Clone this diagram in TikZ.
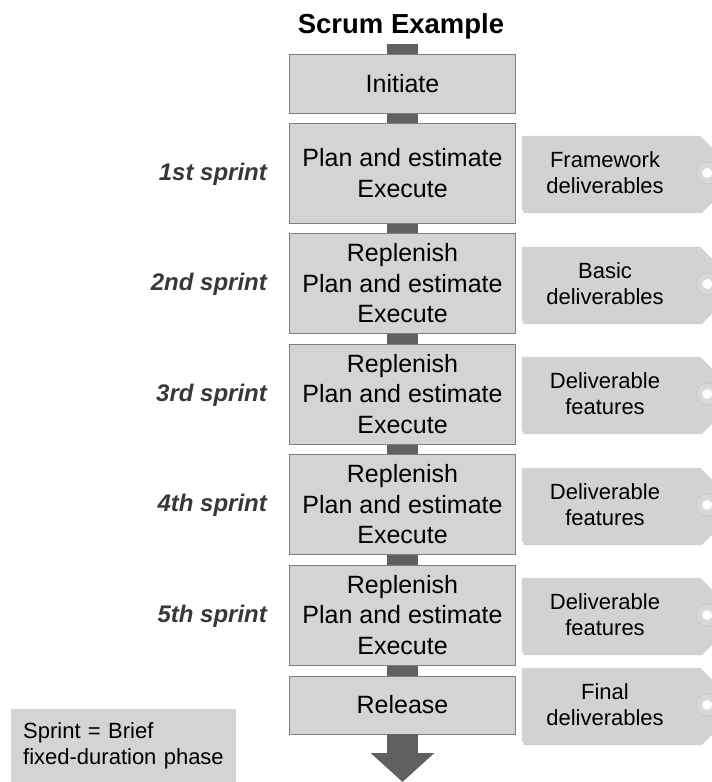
\documentclass[tikz,border=0pt]{standalone}
\usepackage{fontspec}
\setmainfont{Liberation Sans}
\usetikzlibrary{calc,shadows,arrows.meta,backgrounds}
\definecolor{boxfill}{HTML}{D4D4D4}
\definecolor{boxline}{HTML}{808080}
\definecolor{barcol}{HTML}{606060}
\definecolor{tagfill}{HTML}{D2D2D2}
\definecolor{holering}{HTML}{C6C6C6}
\definecolor{holefill}{HTML}{D8D8D8}
\definecolor{lbl}{HTML}{383838}
\begin{document}
\begin{tikzpicture}[x=1pt,y=-1pt,
 phase/.style={draw=boxline, fill=boxfill, line width=0.8pt, minimum width=226pt, minimum height=100pt, align=center, inner sep=0pt, font=\fontsize{25}{30.5}\selectfont},
 link/.style={draw=barcol, line width=31pt},
 sprintlbl/.style={anchor=base east, font=\fontsize{24}{28}\selectfont\bfseries\itshape, text=lbl, inner sep=0pt},
 tagtext/.style={minimum width=166pt, minimum height=74pt, inner sep=0pt, align=center, font=\fontsize{22}{26}\selectfont},
 tagshape/.style={fill=tagfill, drop shadow={shadow xshift=1.5pt, shadow yshift=-3pt, opacity=0.18, fill=black}},
]
\useasboundingbox (0,0) rectangle (712,782);

\node[anchor=base, font=\fontsize{27.5}{33}\selectfont\bfseries] (title) at (401,33) {Scrum Example};

\coordinate (top) at (402.5,44);
\node[phase, minimum height=59pt] (init) at (402.5,83.5) {Initiate};
\node[phase] (b1) at (402.5,173) {Plan and estimate\\Execute};
\node[phase] (b2) at (402.5,283.5) {Replenish\\Plan and estimate\\Execute};
\node[phase] (b3) at (402.5,394) {Replenish\\Plan and estimate\\Execute};
\node[phase] (b4) at (402.5,504.5) {Replenish\\Plan and estimate\\Execute};
\node[phase] (b5) at (402.5,615) {Replenish\\Plan and estimate\\Execute};
\node[phase, minimum height=58pt] (rel) at (402.5,705) {Release};
\coordinate (arrowtip) at (402.5,782);

\node[sprintlbl] (s1) at ($(b1.west)+(-22,7)$) {1st sprint};
\node[sprintlbl] (s2) at ($(b2.west)+(-22,7)$) {2nd sprint};
\node[sprintlbl] (s3) at ($(b3.west)+(-22,7)$) {3rd sprint};
\node[sprintlbl] (s4) at ($(b4.west)+(-22,7)$) {4th sprint};
\node[sprintlbl] (s5) at ($(b5.west)+(-22,7)$) {5th sprint};

\node[tagtext] (t1) at (605,173) {Framework\\deliverables};
\node[tagtext] (t2) at (605,284) {Basic\\deliverables};
\node[tagtext] (t3) at (605,394) {Deliverable\\features};
\node[tagtext] (t4) at (605,505) {Deliverable\\features};
\node[tagtext] (t5) at (605,615) {Deliverable\\features};
\node[tagtext] (t6) at (605,705) {Final\\deliverables};

\node[anchor=north west, fill=boxfill, minimum width=225pt, minimum height=73pt, inner xsep=12pt, inner ysep=0pt, text width=201pt, align=left, font=\fontsize{22}{26}\selectfont] (note) at (11,709) {Sprint = Brief\\fixed-duration phase};

\begin{scope}[on background layer]
  \draw[link] (top) -- (init.north);
  \draw[link] (init.south) -- (b1.north);
  \draw[link] (b1.south) -- (b2.north);
  \draw[link] (b2.south) -- (b3.north);
  \draw[link] (b3.south) -- (b4.north);
  \draw[link] (b4.south) -- (b5.north);
  \draw[link] (b5.south) -- (rel.north);
  \foreach \t in {t1,t2,t3,t4,t5,t6}{
    \path[tagshape] (\t.north west) -- ($(\t.north east)+(12,0)$) -- ($(\t.east)+(49,0)$) -- ($(\t.south east)+(12,0)$) -- (\t.south west) -- cycle;
    \draw[draw=holering, fill=holefill, line width=0.6pt] ($(\t.east)+(19,0)$) circle (11);
    \fill[white] ($(\t.east)+(19,0)$) circle (5);
  }
\end{scope}
\draw[draw=barcol, line width=31pt, -{Triangle[width=62pt,length=29pt]}] (rel.south) -- (arrowtip);
\end{tikzpicture}
\end{document}
